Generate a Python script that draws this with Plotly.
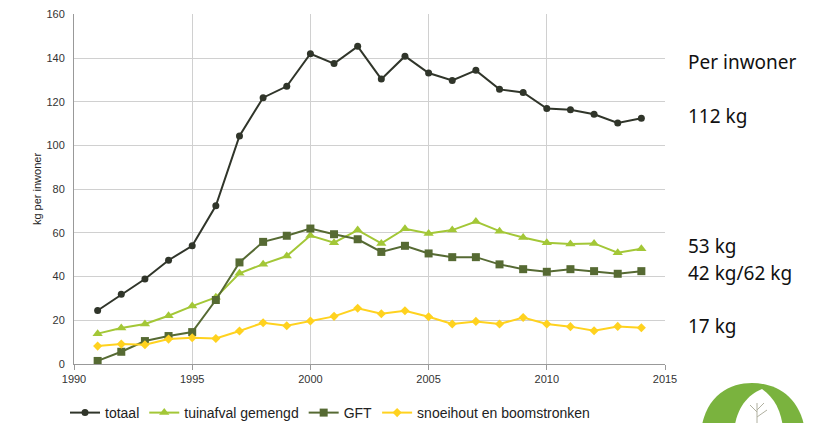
import plotly.graph_objects as go

years = list(range(1991, 2015))
totaal = [24.5, 31.9, 38.9, 47.5, 54.1, 72.4, 104.4, 121.9, 127.1, 142.0, 137.5, 145.4,
          130.4, 140.9, 133.2, 129.8, 134.4, 125.7, 124.3, 116.9, 116.4, 114.3, 110.3, 112.5]
tuinafval = [13.9, 16.5, 18.3, 22.1, 26.5, 30.5, 41.5, 45.7, 49.4, 58.8, 55.5, 61.3,
             55.2, 61.9, 59.7, 61.3, 65.2, 60.8, 57.9, 55.5, 54.9, 55.2, 50.9, 52.7]
gft = [1.4, 5.6, 10.5, 12.8, 14.6, 29.3, 46.5, 55.9, 58.7, 62.0, 59.4, 57.1,
       51.3, 54.1, 50.6, 48.9, 48.9, 45.6, 43.4, 42.2, 43.4, 42.5, 41.3, 42.5]
snoeihout = [8.2, 9.1, 8.8, 11.4, 12.0, 11.7, 15.1, 18.9, 17.5, 19.7, 21.8, 25.5,
             23.0, 24.4, 21.6, 18.3, 19.5, 18.3, 21.3, 18.3, 17.1, 15.2, 17.2, 16.6]

series_names = ["totaal", "tuinafval gemengd", "GFT", "snoeihout en boomstronken"]
side_labels = ["Per inwoner", "112 kg", "53 kg", "42 kg/62 kg", "17 kg"]
x_ticks = [1990, 1995, 2000, 2005, 2010, 2015]
y_ticks = [0, 20, 40, 60, 80, 100, 120, 140, 160]

W, H = 813, 423
# plot area in figure pixels (page body adds an 8px offset)
L, R, T, B = 66, 657, 6, 356


def px(x):  # screen x -> paper
    return (x - 8 - L) / (R - L)


def py(y):  # screen y -> paper
    return (B - (y - 8)) / (B - T)


fig = go.Figure()
styles = [
    (totaal, "#30352a", "circle", 7),
    (tuinafval, "#a3c737", "triangle-up", 9),
    (gft, "#566a33", "square", 8),
    (snoeihout, "#ffd21f", "diamond", 7),
]
for name, (vals, col, sym, sz) in zip(series_names, styles):
    fig.add_trace(go.Scatter(
        x=years, y=vals, name=name, mode="lines+markers",
        line=dict(color=col, width=2),
        marker=dict(symbol=sym, size=sz, color=col),
    ))

# side annotations
side_y = [62, 116, 246, 273, 326]
for txt, yy in zip(side_labels, side_y):
    fig.add_annotation(
        x=px(686), y=py(yy), xref="paper", yref="paper", text=txt,
        showarrow=False, xanchor="left", yanchor="middle",
        font=dict(family="Noto Sans, Open Sans, sans-serif", size=19, color="#111111"),
    )

# logo (decorative leaf)
fig.add_shape(type="path", xref="paper", yref="paper",
              path=f"M {px(700)} {py(445)} C {px(700)} {py(397)}, {px(728)} {py(383)}, {px(752)} {py(383)} "
                   f"C {px(776)} {py(383)}, {px(806)} {py(397)}, {px(806)} {py(445)} Z",
              fillcolor="#7ab33e", line=dict(width=0), layer="above")
fig.add_shape(type="path", xref="paper", yref="paper",
              path=f"M {px(733)} {py(445)} C {px(733)} {py(412)}, {px(745)} {py(396)}, {px(762)} {py(389)} "
                   f"C {px(777)} {py(400)}, {px(784)} {py(415)}, {px(784)} {py(445)} Z",
              fillcolor="#ffffff", line=dict(width=0), layer="above")
for (x0, y0, x1, y1) in [(757, 425, 757, 403), (757, 412, 750, 405), (757, 410, 764, 403), (757, 417, 767, 410)]:
    fig.add_shape(type="line", xref="paper", yref="paper",
                  x0=px(x0), y0=py(y0), x1=px(x1), y1=py(y1),
                  line=dict(color="#b0b0a0", width=1), layer="above")

fig.update_layout(
    width=W, height=H,
    margin=dict(l=L, r=W - R, t=T, b=H - B, autoexpand=False),
    paper_bgcolor="white", plot_bgcolor="white",
    font=dict(family="Liberation Sans, Arial, sans-serif", size=11, color="#333333"),
    showlegend=True,
    legend=dict(orientation="h", x=px(65), y=py(413), xanchor="left", yanchor="middle",
                font=dict(size=14, color="#222222"), itemwidth=30, tracegroupgap=0,
                bgcolor="rgba(0,0,0,0)"),
    xaxis=dict(range=[1990, 2015], tickvals=x_ticks, showgrid=True, gridcolor="#d0d0d0",
               gridwidth=1, showline=True, linecolor="#999999", linewidth=1,
               ticks="outside", ticklen=5, tickcolor="#999999", zeroline=False,
               tickfont=dict(size=11, color="#333333")),
    yaxis=dict(range=[0, 160.2], tickvals=y_ticks, showgrid=True, gridcolor="#d0d0d0",
               gridwidth=1, showline=True, linecolor="#999999", linewidth=1,
               ticks="outside", ticklen=6, tickcolor="rgba(0,0,0,0)", zeroline=False,
               tickfont=dict(size=11, color="#333333"),
               title=dict(text="kg per inwoner", font=dict(size=11, color="#222222"), standoff=2)),
)

fig.write_html("out.html")
